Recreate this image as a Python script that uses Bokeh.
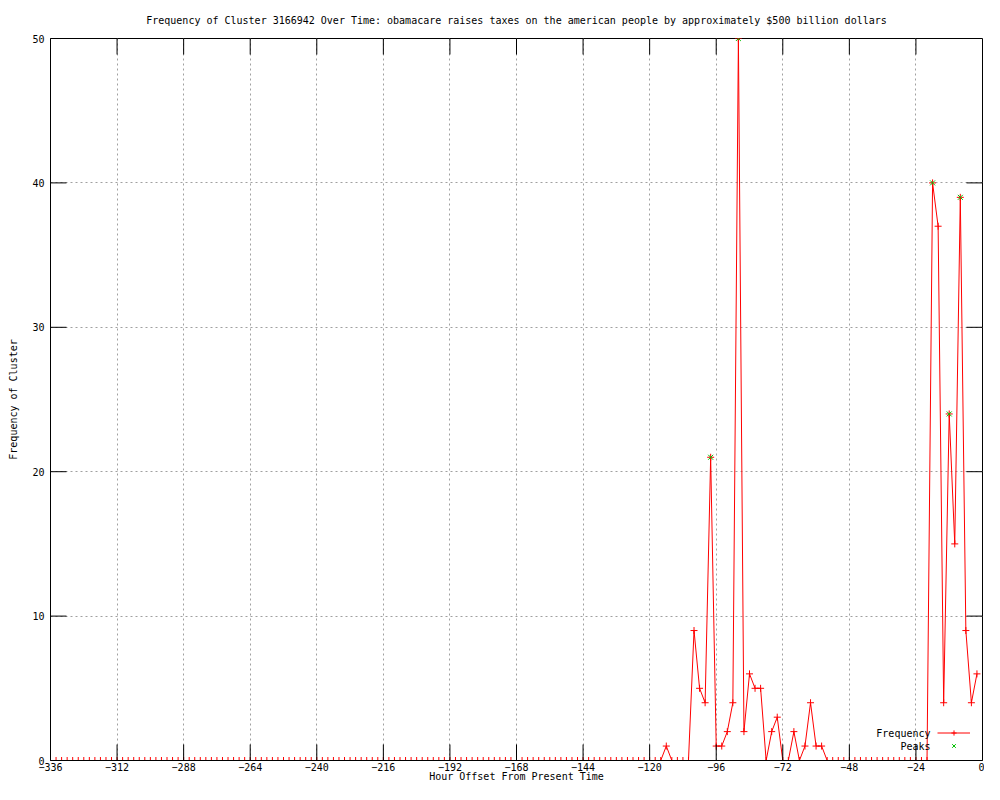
from bokeh.plotting import figure
from bokeh.models import Range1d, Legend, LegendItem, ColumnDataSource, FixedTicker, Label
from bokeh.embed import file_html
from bokeh.resources import INLINE

# ---------------- data ----------------
hours = list(range(-336, 0, 2))
freq = [
    0, 0, 0, 0, 0, 0, 0, 0, 0, 0, 0, 0, 0, 0, 0, 0, 0, 0, 0, 0,
    0, 0, 0, 0, 0, 0, 0, 0, 0, 0, 0, 0, 0, 0, 0, 0, 0, 0, 0, 0,
    0, 0, 0, 0, 0, 0, 0, 0, 0, 0, 0, 0, 0, 0, 0, 0, 0, 0, 0, 0,
    0, 0, 0, 0, 0, 0, 0, 0, 0, 0, 0, 0, 0, 0, 0, 0, 0, 0, 0, 0,
    0, 0, 0, 0, 0, 0, 0, 0, 0, 0, 0, 0, 0, 0, 0, 0, 0, 0, 0, 0,
    0, 0, 0, 0, 0, 0, 0, 0, 0, 0, 0,
    1, 0, 0, 0, 0,
    9, 5, 4, 21, 1, 1, 2, 4, 50, 2, 6, 5, 5, 0, 2, 3, 0, 0, 2, 0, 1, 4, 1, 1,
    0, 0, 0, 0, 0, 0, 0, 0, 0, 0, 0, 0, 0, 0, 0, 0, 0, 0, 0,
    40, 37, 4, 24, 15, 39, 9, 4, 6,
]
peak_hours = [-98, -88, -18, -12, -8]
peak_vals = [21, 50, 40, 24, 39]

x_ticks = [-336, -312, -288, -264, -240, -216, -192, -168, -144, -120,
           -96, -72, -48, -24, 0]
y_ticks = [0, 10, 20, 30, 40, 50]

title_text = ("Frequency of Cluster 3166942 Over Time: obamacare raises taxes "
              "on the american people by approximately $500 billion dollars")
x_label = "Hour Offset From Present Time"
y_label = "Frequency of Cluster"
series_names = ["Frequency", "Peaks"]

FONT = "DejaVu Sans Mono"
FRAME_W, FRAME_H = 932, 721
TICK_PX = 16

# ---------------- figure ----------------
p = figure(width=984, height=784,
           x_range=Range1d(x_ticks[0], x_ticks[-1]),
           y_range=Range1d(y_ticks[0], y_ticks[-1]),
           output_backend="svg", toolbar_location=None,
           min_border_left=50, min_border_right=2,
           min_border_top=38, min_border_bottom=24,
           background_fill_color="white", border_fill_color="white")
p.outline_line_color = "black"
p.outline_line_width = 1

p.title.text = title_text
p.title.text_font = FONT
p.title.text_font_size = "10px"
p.title.text_font_style = "normal"
p.title.text_color = "black"
p.title.align = "center"
p.title.vertical_align = "middle"
p.title.standoff = 24

for ax, ticks in ((p.xaxis[0], x_ticks), (p.yaxis[0], y_ticks)):
    ax.ticker = FixedTicker(ticks=ticks)
    ax.axis_line_color = "black"
    ax.major_tick_line_color = None
    ax.major_tick_in = 0
    ax.major_tick_out = 0
    ax.minor_tick_line_color = None
    ax.major_label_text_font = FONT
    ax.major_label_text_font_size = "10px"
    ax.major_label_text_color = "black"
    ax.axis_label_text_font = FONT
    ax.axis_label_text_font_size = "10px"
    ax.axis_label_text_font_style = "normal"
    ax.axis_label_text_color = "black"

p.xaxis[0].axis_label = x_label
p.yaxis[0].axis_label = y_label
p.xaxis[0].major_label_standoff = 2
p.xaxis[0].axis_label_standoff = -3
p.yaxis[0].major_label_standoff = 6
p.yaxis[0].axis_label_standoff = 10

for g, ticks in ((p.xgrid[0], x_ticks), (p.ygrid[0], y_ticks)):
    g.ticker = FixedTicker(ticks=ticks)
    g.grid_line_color = "#a0a0a0"
    g.grid_line_dash = "2 3"
    g.grid_line_width = 1

# ---------------- data renderers ----------------
src = ColumnDataSource(dict(hour=hours, freq=freq))
line_r = p.line("hour", "freq", source=src, line_color="red", line_width=1)
pts_r = p.scatter("hour", "freq", source=src, marker="cross", size=7,
                  line_color="red", line_width=1)
psrc = ColumnDataSource(dict(hour=peak_hours, val=peak_vals))
peak_r = p.scatter("hour", "val", source=psrc, marker="x", size=7,
                   line_color="#00c000", line_width=1)

# ---------------- inward tick marks (gnuplot style, all four sides) ----------------
x0, x1 = x_ticks[0], x_ticks[-1]
y0, y1 = y_ticks[0], y_ticks[-1]
ly = TICK_PX * (y1 - y0) / FRAME_H   # length of a vertical tick, in data units
lx = TICK_PX * (x1 - x0) / FRAME_W   # length of a horizontal tick, in data units
inner_x = x_ticks[1:-1]
inner_y = y_ticks[1:-1]
tick_src = ColumnDataSource(dict(
    xa=inner_x + inner_x + [x0] * len(inner_y) + [x1] * len(inner_y),
    ya=[y0] * len(inner_x) + [y1] * len(inner_x) + inner_y + inner_y,
    xb=inner_x + inner_x + [x0 + lx] * len(inner_y) + [x1 - lx] * len(inner_y),
    yb=[y0 + ly] * len(inner_x) + [y1 - ly] * len(inner_x) + inner_y + inner_y,
))
p.segment("xa", "ya", "xb", "yb", source=tick_src, line_color="black", line_width=1)
# zero baseline drawn over the series, as the border is in the original
p.segment(x0=[x0], y0=[y0], x1=[x1], y1=[y0], line_color="black", line_width=1)

# ---------------- legend (text left of the sample, as gnuplot) ----------------
legend = Legend(items=[LegendItem(label=" ", renderers=[line_r, pts_r]),
                       LegendItem(label=" ", renderers=[peak_r])],
                location=(887, 8))
legend.glyph_width = 33
legend.glyph_height = 13
legend.label_height = 13
legend.label_standoff = 0
legend.label_text_font = FONT
legend.label_text_font_size = "10px"
legend.padding = 0
legend.margin = 0
legend.spacing = 0
legend.background_fill_alpha = 0
legend.border_line_color = None
p.add_layout(legend)

for txt, yy in ((series_names[0], 27), (series_names[1], 14)):
    p.add_layout(Label(x=880, y=yy, x_units="screen", y_units="screen", text=txt,
                       text_align="right", text_baseline="middle",
                       text_font=FONT, text_font_size="10px", text_color="black"))

open("out.html", "w").write(file_html(p, INLINE))
